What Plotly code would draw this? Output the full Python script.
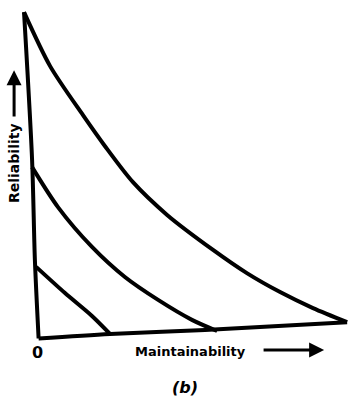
import plotly.graph_objects as go

# Hand-drawn reliability / maintainability trade-off curves (data units)
top_x = [-0.47, 0.37, 1.43, 2.14, 3.04, 4.14, 5.62, 6.71, 7.78, 8.84, 9.94]
top_y = [9.98, 8.33, 6.83, 5.88, 4.78, 3.78, 2.71, 2.00, 1.42, 0.93, 0.50]

mid_x = [-0.21, 0.63, 1.72, 2.78, 3.85, 4.94, 5.75]
mid_y = [5.24, 4.01, 2.80, 1.88, 1.18, 0.57, 0.23]

low_x = [-0.08, 0.85, 1.72, 2.30]
low_y = [2.19, 1.39, 0.69, 0.14]

# hand-drawn axes
yaxis_x = [-0.47, -0.21, -0.12, 0.0]
yaxis_y = [9.98, 5.46, 2.40, 0.0]
xaxis_x = [0.0, 2.30, 5.36, 9.94]
xaxis_y = [0.0, 0.14, 0.26, 0.50]

fig = go.Figure()
line = dict(color="black", width=4, shape="spline", smoothing=0.8)
for xs, ys in [(yaxis_x, yaxis_y), (xaxis_x, xaxis_y), (top_x, top_y),
               (mid_x, mid_y), (low_x, low_y)]:
    fig.add_trace(go.Scatter(x=xs, y=ys, mode="lines", line=line,
                             hoverinfo="skip", showlegend=False))

font = dict(family="DejaVu Sans, sans-serif", color="black")
fig.add_annotation(x=-0.79, y=5.37, text="<b>Reliability</b>", textangle=-90,
                   showarrow=False, font=dict(size=14, **font))
fig.add_annotation(x=-0.79, y=8.2, ax=-0.79, ay=6.74, axref="x", ayref="y",
                   text="", showarrow=True, arrowhead=2, arrowsize=1,
                   arrowwidth=3, arrowcolor="black")
fig.add_annotation(x=-0.02, y=-0.44, text="<b>0</b>", showarrow=False,
                   font=dict(size=16, **font))
fig.add_annotation(x=4.88, y=-0.41, text="<b>Maintainability</b>",
                   showarrow=False, font=dict(size=13, **font))
fig.add_annotation(x=9.2, y=-0.35, ax=7.2, ay=-0.35, axref="x", ayref="y",
                   text="", showarrow=True, arrowhead=2, arrowsize=1,
                   arrowwidth=3, arrowcolor="black")
fig.add_annotation(x=4.72, y=-1.51, text="<b><i>(b)</i></b>", showarrow=False,
                   font=dict(size=16, **font))

fig.update_layout(
    width=351, height=397,
    margin=dict(l=0, r=0, t=0, b=0),
    paper_bgcolor="white", plot_bgcolor="white",
    xaxis=dict(range=[-1.244, 10.065], visible=False, fixedrange=True),
    yaxis=dict(range=[-1.789, 10.352], visible=False, fixedrange=True),
)
fig.write_html("out.html")
